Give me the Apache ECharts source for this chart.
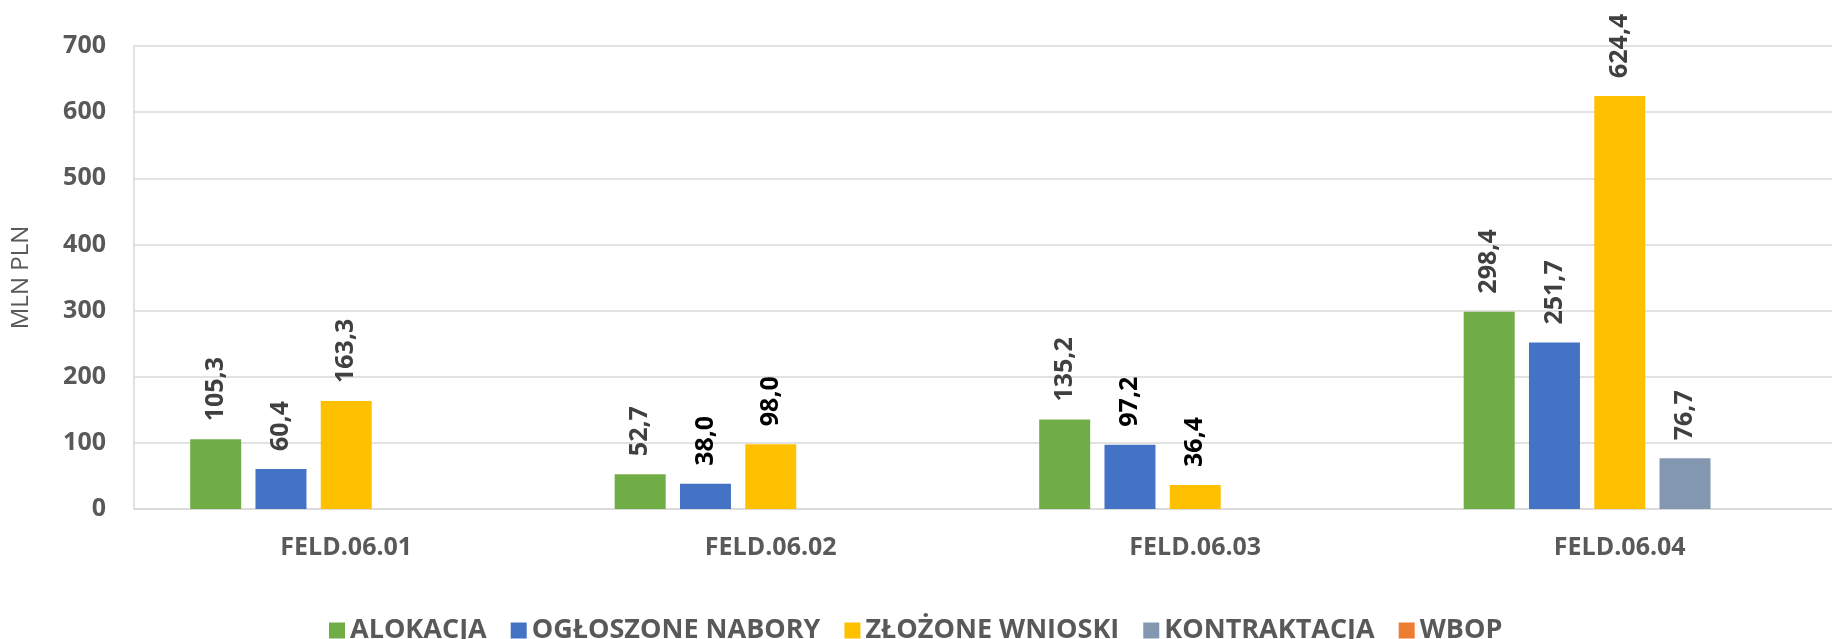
<!DOCTYPE html>
<html>
<head>
<meta charset="utf-8">
<script src="https://cdn.jsdelivr.net/npm/echarts@6/dist/echarts.min.js"></script>
<style>
    html, body { margin: 0; padding: 0; background: #fff; }
    #chart { width: 1832px; height: 639px; }
</style>
</head>
<body>
<div id="chart"></div>
<script>
    // dane z wykresu (mln PLN)
    var categories = ['FELD.06.01', 'FELD.06.02', 'FELD.06.03', 'FELD.06.04'];
    var seriesNames = ['ALOKACJA', 'OGŁOSZONE NABORY', 'ZŁOŻONE WNIOSKI', 'KONTRAKTACJA', 'WBOP'];
    var alokacja = [105.3, 52.7, 135.2, 298.4];
    var nabory = [60.4, 38.0, 97.2, 251.7];
    var wnioski = [163.3, 98.0, 36.4, 624.4];
    var kontraktacja = [null, null, null, 76.7];
    var wbop = [null, null, null, null];
    var yTicks = [0, 100, 200, 300, 400, 500, 600, 700];

    var colors = ['#70AD47', '#4472C4', '#FFC000', '#8497B0', '#ED7D31'];
    // etykiety w kolorze czarnym: [seria, kategoria]
    var blackLabels = [[1, 1], [2, 1], [1, 2], [2, 2]];

    var allData = [alokacja, nabory, wnioski, kontraktacja, wbop];

    function isBlack(s, c) {
        for (var i = 0; i < blackLabels.length; i++) {
            if (blackLabels[i][0] === s && blackLabels[i][1] === c) return true;
        }
        return false;
    }

    var series = [];
    for (var s = 0; s < allData.length; s++) {
        var items = [];
        for (var c = 0; c < allData[s].length; c++) {
            var v = allData[s][c];
            if (v === null) {
                items.push('-');
            } else {
                items.push({
                    value: v,
                    label: { color: isBlack(s, c) ? '#000000' : '#404040' }
                });
            }
        }
        series.push({
            name: seriesNames[s],
            type: 'bar',
            barWidth: 51,
            barGap: '28%',
            itemStyle: { color: colors[s] },
            label: {
                show: true,
                position: 'top',
                rotate: 90,
                align: 'left',
                verticalAlign: 'middle',
                distance: 18,
                fontFamily: 'Open Sans',
                fontWeight: 'bold',
                fontSize: 25,
                formatter: function (p) {
                    return p.value.toFixed(1).replace('.', ',');
                }
            },
            data: items
        });
    }

    var myChart = echarts.init(document.getElementById('chart'));
    var option = {
        animation: false,
        textStyle: { fontFamily: 'Open Sans' },
        grid: {
            left: 134,
            right: -8,
            top: 46,
            bottom: 130
        },
        legend: {
            left: 324,
            top: 612,
            itemWidth: 16,
            itemHeight: 16,
            itemGap: 24,
            icon: 'rect',
            textStyle: {
                color: '#595959',
                fontWeight: 'bold',
                fontSize: 27,
                fontFamily: 'Open Sans'
            },
            data: seriesNames
        },
        xAxis: {
            type: 'category',
            data: categories,
            axisTick: { show: false },
            axisLine: { lineStyle: { color: '#D9D9D9', width: 1.5 } },
            axisLabel: {
                color: '#595959',
                fontWeight: 'bold',
                fontSize: 25,
                margin: 26
            }
        },
        yAxis: {
            type: 'value',
            min: yTicks[0],
            max: yTicks[yTicks.length - 1],
            interval: 100,
            name: 'MLN PLN',
            nameLocation: 'middle',
            nameRotate: 90,
            nameGap: 101,
            nameTextStyle: {
                color: '#595959',
                fontSize: 24,
                fontWeight: 'normal'
            },
            axisLine: { show: true, lineStyle: { color: '#D9D9D9', width: 1.5 } },
            axisTick: { show: false },
            splitLine: { lineStyle: { color: '#D9D9D9', width: 1.5 } },
            axisLabel: {
                color: '#595959',
                fontWeight: 'bold',
                fontSize: 25,
                margin: 28
            }
        },
        series: series
    };
    myChart.setOption(option, true);
</script>
</body>
</html>
